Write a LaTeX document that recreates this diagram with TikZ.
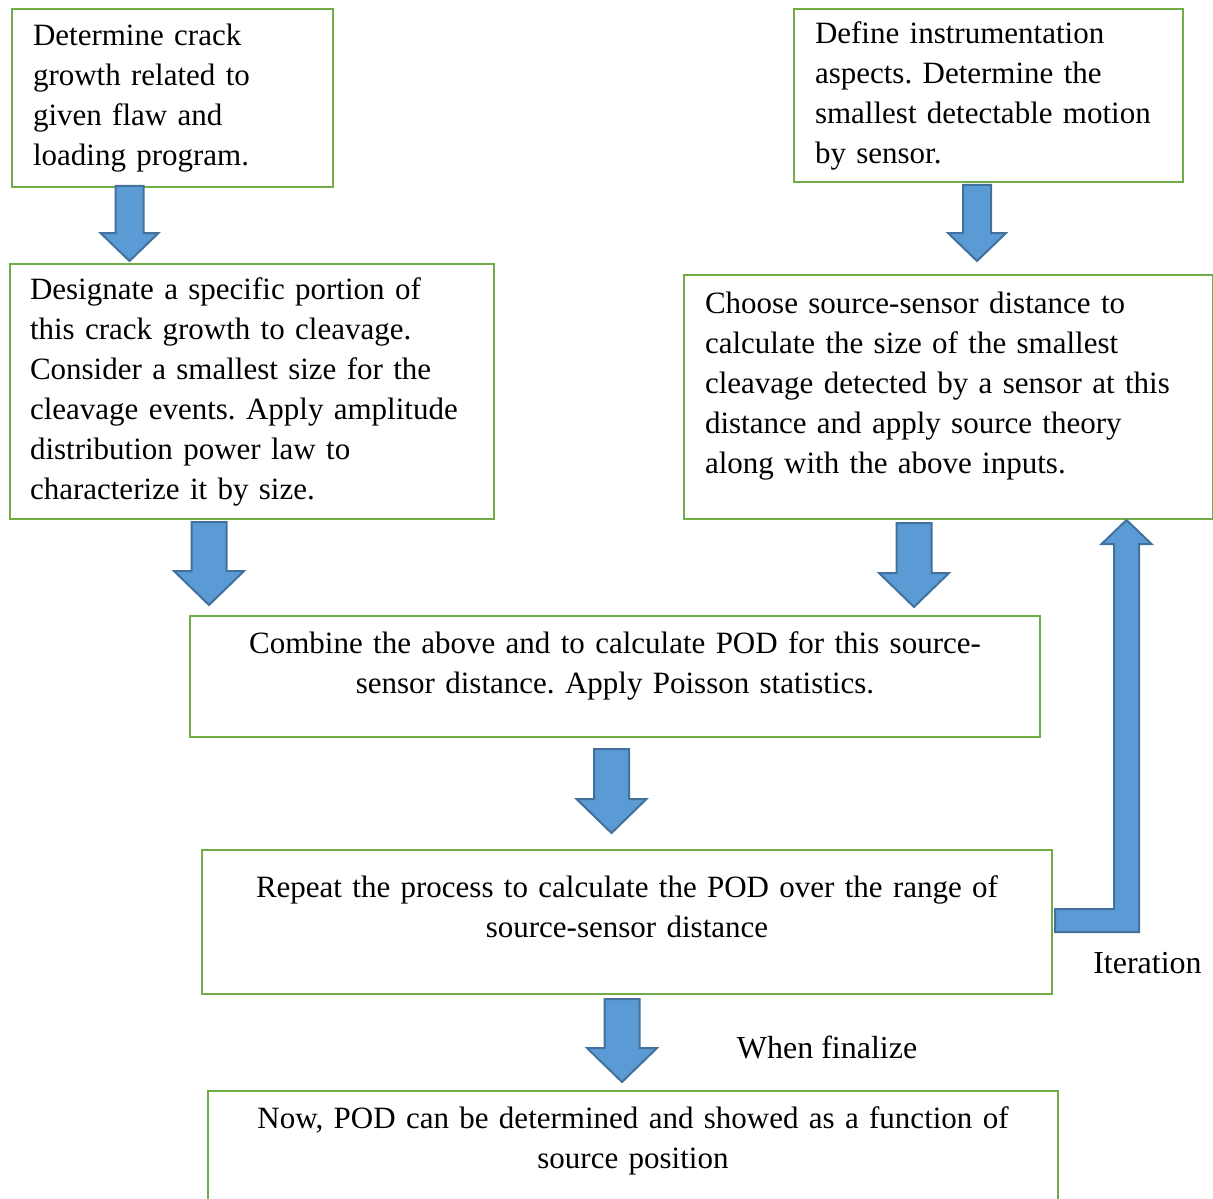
\documentclass[tikz,border=0pt]{standalone}
\usepackage{fontspec}
\setmainfont{Liberation Serif}
\usetikzlibrary{calc}
\frenchspacing
\hyphenpenalty=10000
\exhyphenpenalty=10000

\definecolor{boxgreen}{HTML}{70AD47}
\definecolor{arrfill}{HTML}{5B9BD5}
\definecolor{arredge}{HTML}{41719C}

\begin{document}
\begin{tikzpicture}[
  x=0.5pt, y=-0.5pt,
  font=\fontsize{16}{20}\selectfont,
  box/.style={draw=boxgreen, line width=1pt, anchor=north west, align=left, inner xsep=10.5pt, inner ysep=0pt,
    font=\fontsize{15.5}{20}\selectfont},
  cbox/.style={box, align=center, inner xsep=10pt, text width=405pt},
  blockarr/.style n args={3}{draw=arredge, fill=arrfill, line width=1pt,
    to path={let \p1=(\tikztostart), \p2=(\tikztotarget) in
      (\x1-#1,\y1) -- (\x1+#1,\y1) -- (\x1+#1,\y2+#3) -- (\x1+#2,\y2+#3) -- (\x2,\y2)
      -- (\x1-#2,\y2+#3) -- (\x1-#1,\y2+#3) -- cycle}},
  smallarr/.style={blockarr={7pt}{14.5pt}{14pt}},
  bigarr/.style={blockarr={8.75pt}{17.5pt}{17pt}},
  lbl/.style={inner sep=0pt}
]
\useasboundingbox (0,0) rectangle (1213,1198);
\clip (0,0) rectangle (1213,1198);

% boxes
\node[box, text width=139.5pt, minimum height=89pt] (crack) at (11,8)
  {Determine crack\\ growth related to\\ given flaw and\\ loading program.};
\node[box, inner xsep=10pt, text width=222pt, minimum height=127.5pt] (cleave) at (9,263)
  {Designate a specific portion of\\ this crack growth to cleavage.\\ Consider a smallest size for the\\ cleavage events. Apply amplitude\\ distribution power law to\\ characterize it by size.};
\node[box, text width=173.5pt, minimum height=86.5pt] (instr) at (793,8)
  {Define instrumentation\\ aspects. Determine the\\ smallest detectable motion\\ by sensor.};
\node[box, text width=243.5pt, minimum height=122pt] (dist) at (683,274)
  {Choose source-sensor distance to\\ calculate the size of the smallest\\ cleavage detected by a sensor at this\\ distance and apply source theory\\ along with the above inputs.\rule[-14pt]{0pt}{0pt}};
\node[cbox, minimum height=60.5pt] (pod) at (189,615)
  {Combine the above and to calculate POD for this source-\\ sensor distance. Apply Poisson statistics.\rule[-13.5pt]{0pt}{0pt}};
\node[cbox, minimum height=72pt] (repeat) at (201,849)
  {Repeat the process to calculate the POD over the range of\\ source-sensor distance\rule[-15pt]{0pt}{0pt}};
\node[cbox, minimum height=60.5pt] (final) at (207,1090)
  {Now, POD can be determined and showed as a function of\\ source position\rule[-13.5pt]{0pt}{0pt}};

% labels
\node[lbl] (iterlbl) at (1147.5,963) {Iteration};
\node[lbl] (finlbl) at (827,1047) {When finalize};

% block arrows
\coordinate (a1s) at (129.5,186);  \coordinate (a1e) at (129.5,261);
\coordinate (a2s) at (209,522);    \coordinate (a2e) at (209,605);
\coordinate (a3s) at (977,185);    \coordinate (a3e) at (977,261);
\coordinate (a4s) at (914,523);    \coordinate (a4e) at (914,607);
\coordinate (a5s) at (611.5,749);  \coordinate (a5e) at (611.5,833);
\coordinate (a6s) at (622,999);    \coordinate (a6e) at (622,1082);

\draw[smallarr] (a1s) to (a1e);
\draw[bigarr] (a2s) to (a2e);
\draw[smallarr] (a3s) to (a3e);
\draw[bigarr] (a4s) to (a4e);
\draw[bigarr] (a5s) to (a5e);
\draw[bigarr] (a6s) to (a6e);

% iteration loop back to the distance box
\coordinate (itstart) at (1055,920.5);
\coordinate (ittip) at (1126.5,520);
\draw[draw=arredge, fill=arrfill, line width=1pt]
  let \p1=(itstart), \p2=(ittip) in
  (\x1,\y1-5.75pt) -- (\x2+6.25pt,\y1-5.75pt) -- (\x2+6.25pt,\y2-12pt) -- (\x2+12.5pt,\y2-12pt)
  -- (\x2,\y2) -- (\x2-12.5pt,\y2-12pt) -- (\x2-6.25pt,\y2-12pt) -- (\x2-6.25pt,\y1+5.75pt)
  -- (\x1,\y1+5.75pt) -- cycle;

\end{tikzpicture}
\end{document}
